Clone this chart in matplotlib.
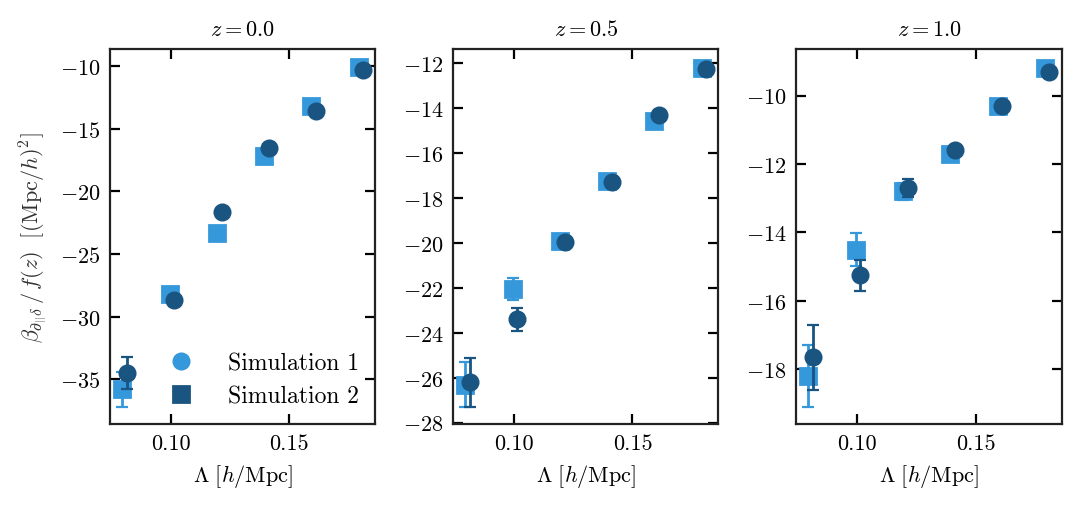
import numpy as np
import matplotlib
matplotlib.use("Agg")
import matplotlib.pyplot as plt
from matplotlib.lines import Line2D

plt.rcParams["font.family"] = "serif"
plt.rcParams["font.serif"] = ["cmr10"]
plt.rcParams["mathtext.fontset"] = "cm"
plt.rcParams["axes.formatter.use_mathtext"] = True
plt.rcParams["font.size"] = 8
plt.rcParams["axes.unicode_minus"] = True

# Datos
redshifts = ["0.0", "0.5", "1.0"]
lam = np.array([0.08, 0.10, 0.12, 0.14, 0.16, 0.18])

# Simulacion 1 (circulos oscuros)
sim1_y = [
    [-34.5, -28.7, -21.6, -16.5, -13.6, -10.3],
    [-26.2, -23.4, -19.95, -17.3, -14.3, -12.25],
    [-17.65, -15.25, -12.7, -11.6, -10.3, -9.3],
]
sim1_err = [
    [1.25, 0.45, 0.15, 0.1, 0.1, 0.1],
    [1.1, 0.5, 0.12, 0.1, 0.08, 0.08],
    [0.95, 0.45, 0.27, 0.1, 0.08, 0.06],
]

# Simulacion 2 (cuadrados claros)
sim2_y = [
    [-35.8, -28.2, -23.3, -17.2, -13.2, -10.1],
    [-26.3, -22.05, -19.9, -17.25, -14.55, -12.2],
    [-18.2, -14.5, -12.8, -11.7, -10.3, -9.2],
]
sim2_err = [
    [1.4, 0.25, 0.15, 0.1, 0.1, 0.1],
    [1.0, 0.5, 0.12, 0.1, 0.08, 0.08],
    [0.9, 0.48, 0.25, 0.1, 0.08, 0.06],
]

color_claro = "#3498db"
color_oscuro = "#1a5480"

fig, axes = plt.subplots(1, 3, figsize=(1081 / 200, 506 / 200), dpi=200)
fig.subplots_adjust(left=0.102, right=0.982, top=0.901, bottom=0.160, wspace=0.294)

for i, ax in enumerate(axes):
    ax.errorbar(lam - 0.0007, sim2_y[i], yerr=sim2_err[i], fmt="s", color=color_claro,
                markersize=5.5, capsize=2, elinewidth=1, capthick=0.8, zorder=2)
    ax.errorbar(lam + 0.0013, sim1_y[i], yerr=sim1_err[i], fmt="o", color=color_oscuro,
                markersize=5.5, capsize=2, elinewidth=1, capthick=0.8, zorder=3)
    ax.set_title(rf"$z = {redshifts[i]}$", fontsize=8, pad=5)
    ax.set_xlabel(r"$\Lambda\ [h/\mathrm{Mpc}]$", labelpad=3)
    ax.set_xticks([0.10, 0.15])
    ax.set_xticklabels(["0.10", "0.15"])
    ax.tick_params(direction="in", top=True, right=True, length=3.5, width=0.8)
    for sp in ax.spines.values():
        sp.set_linewidth(0.8)
        sp.set_color("#222222")

axes[0].set_ylabel(r"$\beta_{\partial_{||}\delta}\,/\,f(z)\ \ [(\mathrm{Mpc}/h)^2]$", color="#333333")
axes[0].set_yticks([-35, -30, -25, -20, -15, -10])
axes[1].set_yticks([-28, -26, -24, -22, -20, -18, -16, -14, -12])
axes[2].set_yticks([-18, -16, -14, -12, -10])

handles = [
    Line2D([], [], marker="o", linestyle="none", color=color_claro, markersize=5.5),
    Line2D([], [], marker="s", linestyle="none", color=color_oscuro, markersize=5.5),
]
axes[0].legend(handles, ["Simulation 1", "Simulation 2"], loc="lower right",
               frameon=False, handletextpad=1.0, borderaxespad=0.3, fontsize=8.5,
               labelspacing=0.45)

fig.savefig("out.png", dpi=200)
